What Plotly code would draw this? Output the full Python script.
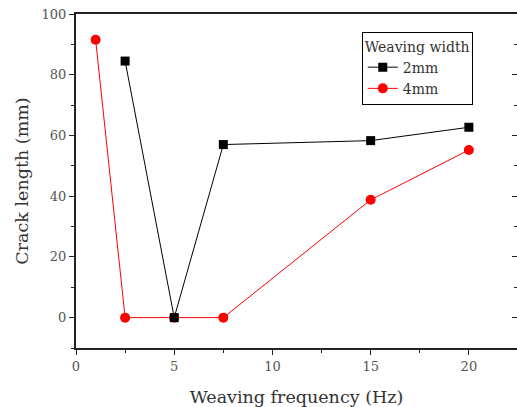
import plotly.graph_objects as go

freq_2mm = [2.5, 5, 7.5, 15, 20]
crack_2mm = [84.5, 0, 57.0, 58.3, 62.7]
freq_4mm = [1, 2.5, 5, 7.5, 15, 20]
crack_4mm = [91.5, 0, 0, 0, 38.8, 55.2]

FONT = "DejaVu Serif, Liberation Serif, serif"

fig = go.Figure()
fig.add_trace(go.Scatter(x=freq_4mm, y=crack_4mm, mode="lines+markers", name="4mm",
                         line=dict(color="#ff0000", width=1),
                         marker=dict(symbol="circle", size=10, color="#ff0000")))
fig.add_trace(go.Scatter(x=freq_2mm, y=crack_2mm, mode="lines+markers", name="2mm",
                         line=dict(color="#000000", width=1),
                         marker=dict(symbol="square", size=9, color="#000000")))
fig.add_trace(go.Scatter(x=[None], y=[None], yaxis="y2", showlegend=False, hoverinfo="skip"))

fig.update_layout(
    width=517, height=407,
    margin=dict(l=76, r=0, t=14, b=59),
    paper_bgcolor="white", plot_bgcolor="white",
    font=dict(family=FONT, color="#444"),
    showlegend=True,
    legend=dict(
        title=dict(text="Weaving width", font=dict(size=14, color="#333")),
        traceorder="reversed",
        x=0.648, y=0.945, xanchor="left", yanchor="top",
        bordercolor="#000", borderwidth=1, bgcolor="white",
        font=dict(size=14, color="#333"),
        tracegroupgap=0, itemwidth=30,
    ),
    xaxis=dict(
        range=[0, 22.45], showgrid=False, zeroline=False,
        showline=True, linecolor="#222", linewidth=2, mirror=True,
        ticks="outside", ticklen=5, tickcolor="#222", tickwidth=1,
        tick0=0, dtick=5,
        minor=dict(ticks="outside", ticklen=3, dtick=2.5, tickcolor="#222"),
        tickfont=dict(size=13, color="#555"),
        title=dict(text="Weaving frequency (Hz)", font=dict(size=17.5, color="#333"), standoff=18),
    ),
    yaxis=dict(
        range=[-10, 100], showgrid=False, zeroline=False,
        showline=True, linecolor="#222", linewidth=2,
        ticks="outside", ticklen=5, tickcolor="#222", tickwidth=1,
        tick0=0, dtick=20,
        minor=dict(ticks="outside", ticklen=3, dtick=10, tickcolor="#222"),
        tickfont=dict(size=13, color="#555"),
        title=dict(text="Crack length (mm)", font=dict(size=17.5, color="#333"), standoff=8),
    ),
    yaxis2=dict(
        range=[-10, 100], overlaying="y", side="right", showgrid=False, zeroline=False,
        showline=False, showticklabels=False,
        ticks="inside", ticklen=5, tickcolor="#222", tickwidth=1,
        tick0=0, dtick=20,
        minor=dict(ticks="inside", ticklen=3, dtick=10, tickcolor="#222"),
    ),
)

fig.write_html("out.html", config={"displayModeBar": False},
               post_script="document.body.style.margin='0';document.body.style.overflow='hidden';")
